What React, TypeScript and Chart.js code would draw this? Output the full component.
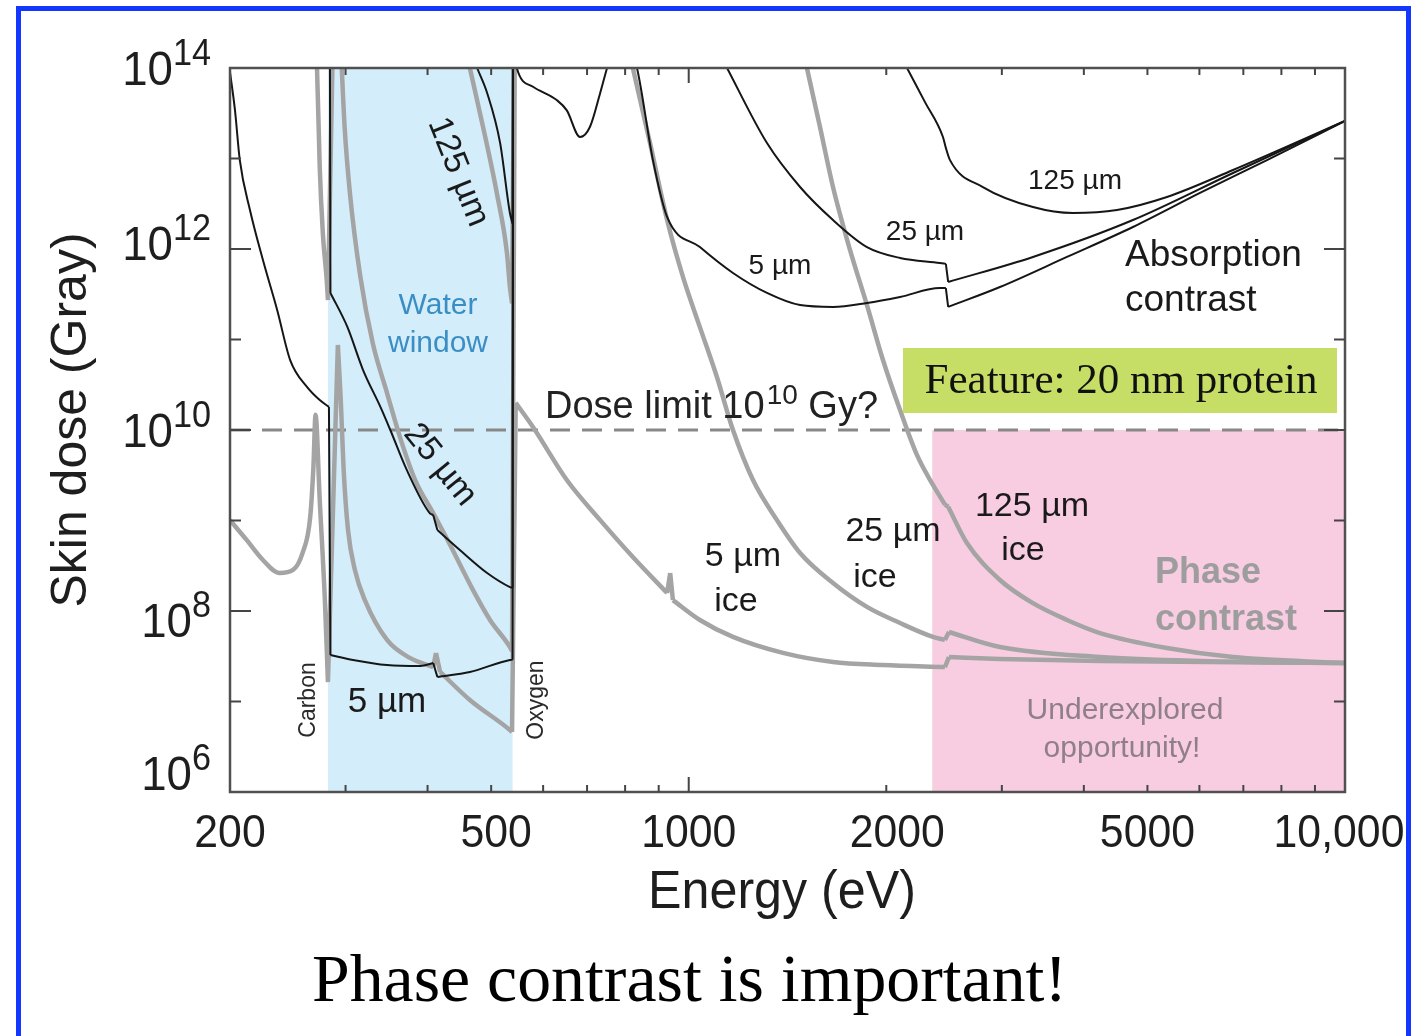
import React, { useEffect, useRef } from "react";
import { Chart, registerables } from "chart.js";

Chart.register(...registerables);

// ---------- data (energy in eV, skin dose in Gy) ----------
// A null dose marks an absorption edge: the neighbours are joined by a straight jump.
// Absorption contrast (black)
const abs5Energy = [200, 203.5, 207, 214.5, 224.5, 236, 247, 262, 274, 283, 0, 284.5, 308, 347, 390, 408, 0, 414, 464, 534, 539, 0, 540, 547, 579, 630, 652, 683, 707, 733, 751, 790, 834, 882, 927, 1040, 1168, 1316, 1478, 1659, 1869, 2099, 2414, 2465, 0, 2485, 2980, 3770, 4752, 6012, 7606, 10000];
const abs5Dose = [9.0e13, 3.44e13, 9.6e12, 2.7e12, 7.55e11, 2.12e11, 5.93e10, 2.99e10, 2.14e10, 1.8e10, null, 3.27e7, 2.88e7, 2.53e7, 2.47e7, 2.66e7, null, 1.87e7, 2.12e7, 2.88e7, 2.9e7, null, 2e14, 1.0e14, 6.2e13, 4.4e13, 3.4e13, 1.73e13, 2.23e13, 5.3e13, 1.0e14, 3e14, 1.0e14, 9.6e12, 2.26e12, 1.05e12, 5.43e11, 3.27e11, 2.4e11, 2.29e11, 2.53e11, 2.95e11, 3.7e11, 3.7e11, null, 2.29e11, 3.8e11, 8.17e11, 1.75e12, 4.16e12, 9.6e12, 2.6e13];

const abs25Energy = [283.5, 0, 284.5, 302, 319, 339, 351, 372, 403, 408, 0, 414, 448, 493, 534, 539, 0, 540, 0, 1066, 1144, 1316, 1478, 1659, 1869, 2099, 2414, 2465, 0, 2485, 3346, 4752, 6751, 10000];
const abs25Dose = [3e16, null, 3.27e11, 1.37e11, 4.6e10, 1.8e10, 1.0e10, 3.6e9, 1.21e9, 1.15e9, null, 7.85e8, 4.72e8, 2.63e8, 1.84e8, 1.8e8, null, 3e16, null, 2.7e14, 1.0e14, 1.48e13, 4.84e12, 2.09e12, 1.05e12, 7.96e11, 7.0e11, 6.85e11, null, 4.32e11, 8.17e11, 2.09e12, 6.92e12, 2.6e13];

const abs125Energy = [459, 476, 493, 516, 534, 539, 0, 540, 0, 2041, 2151, 2291, 2440, 2465, 2501, 2807, 3346, 3851, 4493, 5354, 6751, 10000];
const abs125Dose = [2e14, 1e14, 5.3e13, 1.48e13, 2.5e12, 1.9e12, null, 3e16, null, 2.1e14, 1.0e14, 4.2e13, 1.73e13, 1.31e13, 9.6e12, 4.84e12, 2.91e12, 2.5e12, 2.7e12, 3.76e12, 7.46e12, 2.6e13];

// Phase contrast through ice (grey)
const ice5Energy = [200, 212, 224.5, 238, 249.5, 258, 265, 268, 270, 274, 279, 282, 0, 292, 295, 298, 302.6, 310, 321, 347, 376, 408, 0, 412, 0, 418, 464, 534, 538, 0, 545, 579, 652, 733, 822, 927, 0, 937, 0, 946, 1040, 1168, 1392, 1659, 1977, 2457, 0, 2492, 2980, 4233, 10000];
const ice5Dose = [1.01e9, 6.1e8, 3.66e8, 2.63e8, 2.84e8, 4.38e8, 1.09e9, 3.9e9, 1.47e10, 1.69e9, 1.32e8, 1.64e7, null, 8.7e10, 2.14e10, 3.6e9, 7.85e8, 2.84e8, 1.32e8, 4.79e7, 3.03e7, 2.4e7, null, 3.44e7, null, 2.12e7, 1.04e7, 4.84e6, 4.6e6, null, 2.0e10, 1.08e10, 2.8e9, 1.01e9, 3.95e8, 1.58e8, null, 2.63e8, null, 1.32e8, 7.96e7, 5.17e7, 3.44e7, 2.73e7, 2.53e7, 2.4e7, null, 3.1e7, 2.95e7, 2.8e7, 2.66e7];

const ice25Energy = [268, 271.4, 274, 277, 281, 282, 0, 289, 0, 296, 299, 304.6, 316, 330, 347, 363, 383, 408, 433, 469, 498, 534, 538, 0, 545, 0, 794, 822, 873, 927, 980, 1040, 1104, 1168, 1253, 1363, 1478, 1659, 1869, 2099, 2356, 2457, 0, 2492, 2980, 4233, 6012, 10000];
const ice25Dose = [3e14, 1e14, 8.05e12, 1.5e12, 4.2e11, 2.73e11, null, 3e15, null, 1e14, 2.23e13, 4.16e12, 4.91e11, 9.14e10, 2.56e10, 8.4e9, 2.8e9, 1.21e9, 5.36e8, 1.71e8, 7.96e7, 4.0e7, 3.6e7, null, 3e16, null, 3.2e14, 1e14, 1.48e13, 2.09e12, 4.91e11, 1.37e11, 3.85e10, 1e10, 2.8e9, 1.01e9, 4.38e8, 2.04e8, 1.11e8, 7.36e7, 5.17e7, 4.79e7, null, 5.86e7, 4.0e7, 3.1e7, 2.8e7, 2.66e7];

const ice125Energy = [451, 464, 486, 510, 528.5, 534, 538, 0, 545, 0, 1472, 1514, 1585, 1659, 1761, 1869, 1977, 2099, 2227, 2356, 2457, 0, 2485, 2654, 2980, 3346, 3770, 4233, 5354, 6751, 10000];
const ice125Dose = [2.6e14, 1e14, 2.23e13, 4.16e12, 9.04e11, 3.8e11, 2.5e11, null, 3e16, null, 2.6e14, 1e14, 2.23e13, 4.84e12, 9.75e11, 2.4e11, 5.93e10, 1.66e10, 5.3e9, 2.47e9, 1.5e9, null, 1.42e9, 5.64e8, 2.2e8, 1.22e8, 7.96e7, 5.71e7, 3.9e7, 3.1e7, 2.66e7];

const doseLimit = 1e10;
const waterWindow = [282, 539];
const phaseRegionStart = 2350;

const xRange = [200, 10000];
const yRange = [1e6, 1e14];
const xTickLabels = [200, 500, 1000, 2000, 5000, 10000];
const xMinorTicks = [300, 400, 500, 600, 700, 800, 900, 2000, 3000, 4000, 5000, 6000, 7000, 8000, 9000];
const xMajorTicks = [1000];
const yTickExps = [7, 8, 9, 10, 11, 12, 13];
const yLabelExps = [6, 8, 10, 12, 14];

const SANS = '"Liberation Sans", Arial, Helvetica, sans-serif';
const SERIF = '"Liberation Serif", "Times New Roman", serif';

// builds chart points; a null dose becomes a straight edge jump between its neighbours
function curve(E: number[], D: (number | null)[]) {
  const out: { x: number; y: number | null }[] = [];
  for (let i = 0; i < D.length; i++) {
    if (D[i] === null) {
      const a = { x: E[i - 1], y: D[i - 1] };
      const b = { x: E[i + 1], y: D[i + 1] };
      out.push({ x: a.x, y: null }, a, b, { x: b.x, y: null });
    } else {
      out.push({ x: E[i], y: D[i] });
    }
  }
  return out;
}

type TOpt = {
  size: number;
  color?: string;
  align?: CanvasTextAlign;
  weight?: string;
  family?: string;
  sx?: number;
  rot?: number;
  baseline?: CanvasTextBaseline;
};

function drawText(ctx: CanvasRenderingContext2D, s: string, x: number, y: number, o: TOpt) {
  ctx.save();
  ctx.font = `${o.weight || "normal"} ${o.size}px ${o.family || SANS}`;
  ctx.fillStyle = o.color || "#1a1a1a";
  ctx.textAlign = o.align || "center";
  ctx.textBaseline = o.baseline || "middle";
  ctx.translate(x, y);
  if (o.rot) ctx.rotate((o.rot * Math.PI) / 180);
  if (o.sx) ctx.scale(o.sx, 1);
  ctx.fillText(s, 0, 0);
  ctx.restore();
}

function measure(ctx: CanvasRenderingContext2D, s: string, font: string) {
  ctx.save();
  ctx.font = font;
  const w = ctx.measureText(s).width;
  ctx.restore();
  return w;
}

const overlay = {
  id: "overlay",
  beforeDraw(chart: any) {
    const c = chart.ctx as CanvasRenderingContext2D;
    c.save();
    c.fillStyle = "#ffffff";
    c.fillRect(0, 0, chart.width, chart.height);
    c.restore();
  },
  beforeDatasetsDraw(chart: any) {
    const c = chart.ctx as CanvasRenderingContext2D;
    const xs = chart.scales.x, ys = chart.scales.y, a = chart.chartArea;
    c.save();
    const wx0 = xs.getPixelForValue(waterWindow[0]);
    const wx1 = xs.getPixelForValue(waterWindow[1]);
    c.fillStyle = "#d3eefa";
    c.fillRect(wx0, a.top, wx1 - wx0, a.bottom - a.top);
    const px0 = xs.getPixelForValue(phaseRegionStart);
    const py0 = ys.getPixelForValue(doseLimit);
    c.fillStyle = "#f8cde1";
    c.fillRect(px0, py0, a.right - px0, a.bottom - py0);
    c.restore();
  },
  afterDatasetsDraw(chart: any) {
    const c = chart.ctx as CanvasRenderingContext2D;
    const xs = chart.scales.x, ys = chart.scales.y, a = chart.chartArea;
    c.save();
    c.strokeStyle = "#505050";
    c.lineWidth = 2.5;
    c.strokeRect(a.left, a.top, a.right - a.left, a.bottom - a.top);
    c.lineWidth = 2;
    c.strokeStyle = "#454545";
    c.beginPath();
    for (const e of yTickExps) {
      const y = ys.getPixelForValue(Math.pow(10, e));
      const len = e % 2 === 0 ? 21 : 11;
      c.moveTo(a.left, y); c.lineTo(a.left + len, y);
      c.moveTo(a.right, y); c.lineTo(a.right - len, y);
    }
    for (const v of xMinorTicks) {
      const x = xs.getPixelForValue(v);
      c.moveTo(x, a.bottom); c.lineTo(x, a.bottom - 7);
      c.moveTo(x, a.top); c.lineTo(x, a.top + 7);
    }
    for (const v of xMajorTicks) {
      const x = xs.getPixelForValue(v);
      c.moveTo(x, a.bottom); c.lineTo(x, a.bottom - 15);
      c.moveTo(x, a.top); c.lineTo(x, a.top + 15);
    }
    c.stroke();
    c.restore();

    const xOff: Record<number, number> = { 200: 0, 500: 5, 1000: 0, 2000: 11, 5000: 0, 10000: -6 };
    for (const v of xTickLabels) {
      const x = xs.getPixelForValue(v) + (xOff[v] || 0);
      const s = v === 10000 ? "10,000" : String(v);
      drawText(c, s, x, 834, { size: 46, sx: 0.93, color: "#1e1e1e" });
    }
    const yOff: Record<number, number> = { 6: -17, 8: 11, 10: 2, 12: -4, 14: 2 };
    for (const e of yLabelExps) {
      const y = ys.getPixelForValue(Math.pow(10, e)) + (yOff[e] || 0);
      const supW = measure(c, String(e), `36px ${SANS}`) * 0.95;
      const right = 211;
      drawText(c, "10", right - supW, y + 2, { size: 48, sx: 0.95, align: "right", color: "#1e1e1e" });
      drawText(c, String(e), right - supW, y - 15, { size: 36, sx: 0.95, align: "left", color: "#1e1e1e" });
    }
    drawText(c, "Energy (eV)", 782, 893, { size: 54, sx: 0.93, color: "#1e1e1e" });
    drawText(c, "Skin dose (Gray)", 72, 420, { size: 50, rot: -90, color: "#1e1e1e" });

    drawText(c, "125 \u00b5m", 458, 172, { size: 34, rot: 68 });
    drawText(c, "25 \u00b5m", 440, 465, { size: 34, rot: 51 });
    drawText(c, "Water", 438, 306, { size: 30, color: "#3b8ec4" });
    drawText(c, "window", 438, 344, { size: 30, color: "#3b8ec4" });
    drawText(c, "5 \u00b5m", 387, 702, { size: 35 });
    drawText(c, "Carbon", 309, 700, { size: 23, rot: -90, color: "#2a2a2a" });
    drawText(c, "Oxygen", 537, 700, { size: 23, rot: -90, color: "#2a2a2a" });

    const w1 = measure(c, "Dose limit 10", `38px ${SANS}`);
    const wSup = measure(c, "10", `28px ${SANS}`);
    drawText(c, "Dose limit 10", 545, 408, { size: 38, align: "left", color: "#222" });
    drawText(c, "10", 545 + w1 + 2, 396, { size: 28, align: "left", color: "#222" });
    drawText(c, " Gy?", 545 + w1 + 2 + wSup, 408, { size: 38, align: "left", color: "#222" });

    drawText(c, "5 \u00b5m", 780, 266, { size: 28 });
    drawText(c, "25 \u00b5m", 925, 232, { size: 28 });
    drawText(c, "125 \u00b5m", 1075, 181, { size: 28 });
    drawText(c, "Absorption", 1125, 256, { size: 37, align: "left" });
    drawText(c, "contrast", 1125, 301, { size: 37, align: "left" });

    drawText(c, "5 \u00b5m", 743, 557, { size: 34 });
    drawText(c, "ice", 736, 602, { size: 34 });
    drawText(c, "25 \u00b5m", 893, 532, { size: 34 });
    drawText(c, "ice", 875, 578, { size: 34 });
    drawText(c, "125 \u00b5m", 1032, 507, { size: 34 });
    drawText(c, "ice", 1023, 551, { size: 34 });

    drawText(c, "Phase", 1155, 573, { size: 36, weight: "bold", align: "left", color: "#9d9d9d" });
    drawText(c, "contrast", 1155, 620, { size: 36, weight: "bold", align: "left", color: "#9d9d9d" });
    drawText(c, "Underexplored", 1125, 711, { size: 30, color: "#8e7f8a" });
    drawText(c, "opportunity!", 1122, 749, { size: 30, color: "#8e7f8a" });

    c.save();
    c.fillStyle = "#c6dd66";
    c.fillRect(903, 348, 434, 65);
    c.restore();
    drawText(c, "Feature: 20 nm protein", 1121, 382, { size: 43, family: SERIF, color: "#111" });
  },
  afterDraw(chart: any) {
    const c = chart.ctx as CanvasRenderingContext2D;
    const f = `68px ${SERIF}`;
    const w = measure(c, "Phase contrast is important!", f);
    drawText(c, "Phase contrast is important!", 312, 1001, {
      size: 68, family: SERIF, align: "left", baseline: "alphabetic", sx: 755 / w, color: "#000",
    });
    c.save();
    c.fillStyle = "#1437ff";
    c.fillRect(16, 6, 1395, 5);
    c.fillRect(16, 6, 5, 1030);
    c.fillRect(1406, 6, 5, 1030);
    c.restore();
  },
};

export default function App() {
  const ref = useRef<HTMLCanvasElement | null>(null);
  useEffect(() => {
    if (!ref.current) return;
    const black = "#161616";
    const grey = "#a4a4a4";
    const line = (data: any[], color: string, width: number, order: number, extra: any = {}) => ({
      data,
      borderColor: color,
      borderWidth: width,
      pointRadius: 0,
      fill: false,
      spanGaps: false,
      cubicInterpolationMode: "monotone",
      order,
      ...extra,
    });
    const chart = new Chart(ref.current, {
      type: "line",
      data: {
        datasets: [
          line([{ x: xRange[0], y: doseLimit }, { x: xRange[1], y: doseLimit }], "#888888", 3, 5, {
            borderDash: [20, 12], cubicInterpolationMode: "default", tension: 0,
          }),
          line(curve(ice5Energy, ice5Dose), grey, 4.5, 3),
          line(curve(ice25Energy, ice25Dose), grey, 4.5, 3),
          line(curve(ice125Energy, ice125Dose), grey, 4.5, 3),
          line(curve(abs5Energy, abs5Dose), black, 2, 1),
          line(curve(abs25Energy, abs25Dose), black, 2, 1),
          line(curve(abs125Energy, abs125Dose), black, 2, 1),
        ] as any,
      },
      options: {
        animation: false,
        responsive: false,
        devicePixelRatio: 1,
        events: [],
        layout: { padding: { left: 230, right: 66, top: 68, bottom: 244 } },
        plugins: { legend: { display: false }, tooltip: { enabled: false } },
        elements: { point: { radius: 0 }, line: { capBezierPoints: false } },
        scales: {
          x: { type: "logarithmic", min: xRange[0], max: xRange[1], display: false },
          y: { type: "logarithmic", min: yRange[0], max: yRange[1], display: false },
        },
      } as any,
      plugins: [overlay as any],
    });
    return () => chart.destroy();
  }, []);
  return (
    <div style={{ position: "fixed", left: 0, top: 0, width: 1411, height: 1036, background: "#fff" }}>
      <canvas ref={ref} width={1411} height={1036} style={{ display: "block", width: 1411, height: 1036 }} />
    </div>
  );
}
